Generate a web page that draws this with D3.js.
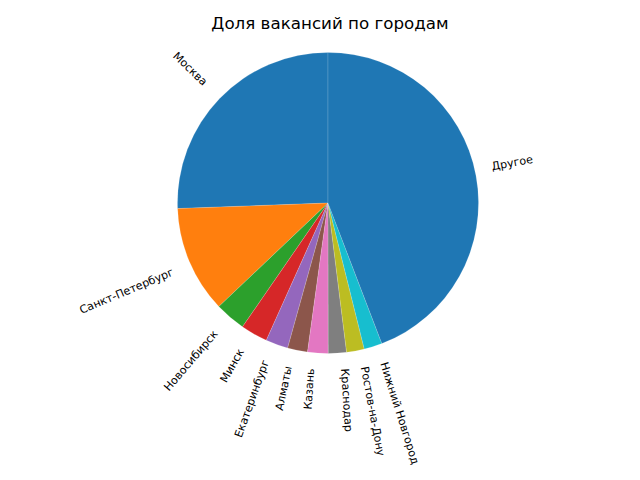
<!DOCTYPE html>
<html>
<head>
<meta charset="utf-8">
<script src="https://cdn.jsdelivr.net/npm/d3@7"></script>
<style>
  body { margin: 0; background: #fff; }
  svg { display: block; font-family: "DejaVu Sans", sans-serif; }
</style>
</head>
<body>
<svg width="640" height="480"></svg>
<script>
const cities = ["Москва", "Санкт-Петербург", "Новосибирск", "Минск", "Екатеринбург",
    "Алматы", "Казань", "Краснодар", "Ростов-на-Дону", "Нижний Новгород", "Другое"];
const shares = [25.6, 11.5, 3.3, 2.9, 2.4, 2.15, 2.2, 1.95, 1.9, 1.95, 44.2];
const colors = ["#1f77b4", "#ff7f0e", "#2ca02c", "#d62728", "#9467bd", "#8c564b",
    "#e377c2", "#7f7f7f", "#bcbd22", "#17becf", "#1f77b4"];

let cx = 328, cy = 203, radius = 150.5;
let labelSize = 11.1;

var svg = d3.select("svg");

svg.append("text")
    .attr("x", 330)
    .attr("y", 29)
    .attr("text-anchor", "middle")
    .style("font-size", "16.7px")
    .text("Доля вакансий по городам");

let data = cities.map((c, i) => ({ city: c, share: shares[i], color: colors[i] }));

// против часовой стрелки, начиная сверху, как в matplotlib
let pie = d3.pie()
    .value(d => d.share)
    .sort(null)
    .startAngle(0)
    .endAngle(-2 * Math.PI);

let arc = d3.arc().innerRadius(0).outerRadius(radius);

let pieGroup = svg.append("g")
    .attr("transform", `translate(${cx},${cy})`);

let arcs = pie(data);

pieGroup.selectAll("path")
    .data(arcs)
    .enter()
    .append("path")
    .attr("d", arc)
    .attr("fill", d => d.data.color)
    .attr("stroke", "rgba(255,255,255,0.25)")  // тонкий шов между секторами
    .attr("stroke-width", 0.6);

// подписи повернуты по среднему углу сектора
arcs.forEach(d => {
    let mid = (d.startAngle + d.endAngle) / 2;
    let theta = Math.PI / 2 - mid;           // угол в системе matplotlib
    let xt = 1.1 * radius * Math.cos(theta);
    let yt = 1.1 * radius * Math.sin(theta);
    let rot = theta * 180 / Math.PI + (xt > 0 ? 0 : 180);

    let t = pieGroup.append("text")
        .attr("text-anchor", "middle")
        .style("font-size", labelSize + "px")
        .attr("y", 0.26 * labelSize)
        .text(d.data.city);

    let w = t.node().getComputedTextLength();
    let h = 1.0 * labelSize;
    let r = rot * Math.PI / 180;
    let halfW = (w * Math.abs(Math.cos(r)) + h * Math.abs(Math.sin(r))) / 2;
    let halfH = (w * Math.abs(Math.sin(r)) + h * Math.abs(Math.cos(r))) / 2;

    let px = xt > 0 ? xt + halfW : xt - halfW;
    let py = yt > 0 ? yt + halfH : yt - halfH;

    t.attr("transform", `translate(${px},${-py}) rotate(${-rot})`);
});
</script>
</body>
</html>
